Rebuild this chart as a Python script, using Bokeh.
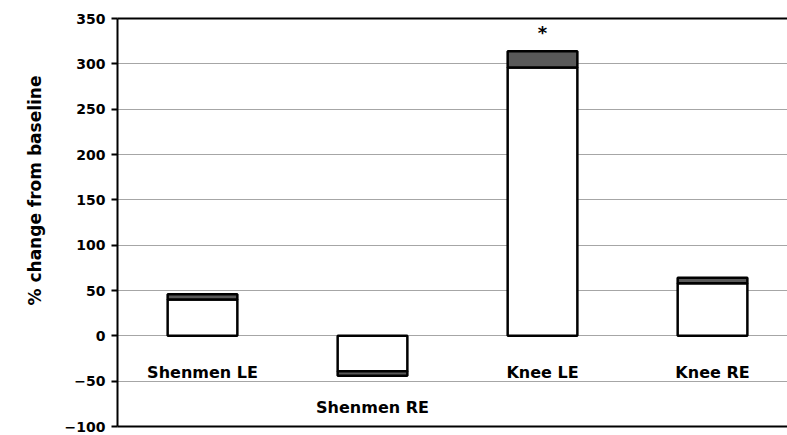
from bokeh.plotting import figure
from bokeh.models import LinearAxis, FixedTicker, Range1d, Title, ColumnDataSource
from bokeh.embed import file_html
from bokeh.resources import INLINE
from bokeh.core.properties import value

categories = ["Shenmen LE", "Shenmen RE", "Knee LE", "Knee RE"]
base_vals = [40, -39, 296, 58]
top_vals = [6, -5, 18, 6]
label_y = [-40, -79, -40, -40]
star_text = ["", "", "*", ""]
y_ticks = [-100, -50, 0, 50, 100, 150, 200, 250, 300, 350]

xs = list(range(len(categories)))
bottoms2 = base_vals
tops2 = [b + t for b, t in zip(base_vals, top_vals)]

FONT = "DejaVu Sans"

p = figure(width=787, height=435, output_backend="svg", toolbar_location=None,
           x_range=Range1d(-0.5, 3.441), y_range=Range1d(-100, 350),
           x_axis_location=None, y_axis_location=None,
           min_border_left=117, min_border_right=0, min_border_top=18, min_border_bottom=9)
p.outline_line_color = None
p.background_fill_color = "white"
p.border_fill_color = "white"

p.xgrid.visible = False
p.ygrid.ticker = FixedTicker(ticks=y_ticks)
p.ygrid.grid_line_color = "#a6a6a6"
p.ygrid.grid_line_width = 1

yax = LinearAxis(ticker=FixedTicker(ticks=y_ticks))
yax.axis_line_color = "black"
yax.axis_line_width = 2
yax.major_tick_line_color = "black"
yax.major_tick_line_width = 2
yax.major_tick_out = 6
yax.major_tick_in = 0
yax.minor_tick_line_color = None
yax.major_label_text_font = FONT
yax.major_label_text_font_style = "bold"
yax.major_label_text_font_size = "14px"
yax.major_label_text_color = "black"
yax.major_label_standoff = 6
p.add_layout(yax, "left")

for loc in ("below", "above"):
    ax = LinearAxis(ticker=FixedTicker(ticks=[]))
    ax.axis_line_color = "black"
    ax.axis_line_width = 2
    ax.major_tick_line_color = None
    ax.minor_tick_line_color = None
    ax.major_label_text_font_size = "0px"
    p.add_layout(ax, loc)

ytitle = Title(text="% change from baseline", align="right", offset=57,
               text_font=FONT, text_font_style="bold", text_font_size="17px",
               text_color="black", standoff=34)
p.add_layout(ytitle, "left")

src = ColumnDataSource(dict(x=xs, b=base_vals, b2=bottoms2, t2=tops2,
                            cat=categories, ly=label_y, star=star_text,
                            sy=[t + 21 for t in tops2]))

p.vbar(x="x", width=0.41, bottom=0, top="b", source=src,
       fill_color="white", line_color="black", line_width=2.5)
p.vbar(x="x", width=0.41, bottom="b2", top="t2", source=src,
       fill_color="#595959", line_color="black", line_width=2.5)

p.text(x="x", y="ly", text="cat", source=src, text_align="center",
       text_baseline="middle", text_font=value(FONT), text_font_style="bold",
       text_font_size="16px", text_color="black")
p.text(x="x", y="sy", text="star", source=src, text_align="center",
       text_baseline="middle", text_font=value(FONT), text_font_style="bold",
       text_font_size="18px", text_color="black")

open("out.html", "w").write(file_html(p, INLINE))
